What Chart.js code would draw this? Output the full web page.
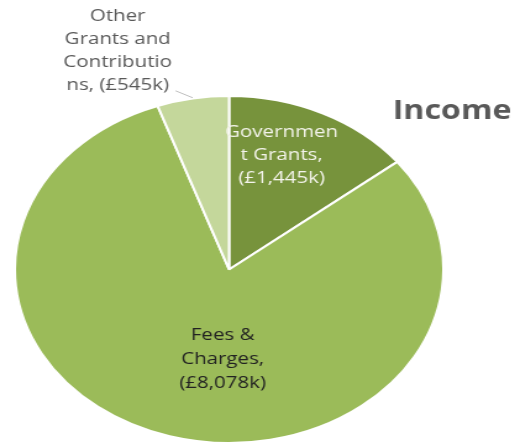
<!DOCTYPE html>
<html lang="en">
<head>
  <meta charset="UTF-8">
  <title>Income</title>
  <script src="https://cdn.jsdelivr.net/npm/chart.js"></script>
  <style>
    html, body { margin: 0; padding: 0; background: #fff; overflow: hidden; }
    /* the original picture is stretched sideways, so the chart is drawn narrow and scaled */
    .wrap { width: 417px; height: 444px; transform: scaleX(1.235); transform-origin: 0 0; }
  </style>
</head>
<body>
  <div class="wrap">
    <canvas id="incomeChart" width="417" height="444"></canvas>
  </div>

<script>
  var categorias = ['Government Grants', 'Fees & Charges', 'Other Grants and Contributions'];
  var valores = [1445, 8078, 545];
  var linhasRotulo = [
    ['Governmen', 't Grants,', '(£1,445k)'],
    ['Fees &', 'Charges,', '(£8,078k)'],
    ['Other', 'Grants and', 'Contributio', 'ns, (£545k)']
  ];
  var titulo = 'Income';

  // label placement relative to pie centre, in units of radius
  var posRotulo = [
    { dx: 0.245, dy: -0.79, cor: '#f4f4ec', lh: 23 },
    { dx: -0.03, dy: 0.38, cor: '#222222', lh: 24 },
    { dx: -0.52, dy: -1.46, cor: '#595959', lh: 23 }
  ];

  const rotulos = {
    id: 'rotulos',
    afterDatasetsDraw(chart) {
      const ctx = chart.ctx;
      const arc = chart.getDatasetMeta(0).data[0];
      const cx = arc.x, cy = arc.y, r = arc.outerRadius;
      ctx.save();
      ctx.font = '16.6px "Open Sans"';
      ctx.textAlign = 'center';
      ctx.textBaseline = 'middle';
      for (var i = 0; i < linhasRotulo.length; i++) {
        var p = posRotulo[i];
        ctx.fillStyle = p.cor;
        for (var j = 0; j < linhasRotulo[i].length; j++) {
          ctx.fillText(linhasRotulo[i][j], cx + p.dx * r, cy + p.dy * r + j * p.lh);
        }
      }
      // leader line for the small slice
      ctx.strokeStyle = '#bfbfbf';
      ctx.lineWidth = 1;
      ctx.beginPath();
      ctx.moveTo(cx - 0.25 * r, cy - 1.03 * r);
      ctx.lineTo(cx - 0.17 * r, cy - 0.99 * r);
      ctx.stroke();
      // title
      ctx.font = 'bold 26px "Open Sans"';
      ctx.fillStyle = '#595959';
      ctx.fillText(titulo, 366, 112);
      ctx.restore();
    }
  };

  new Chart(document.getElementById('incomeChart'), {
    type: 'pie',
    data: {
      labels: categorias,
      datasets: [{
        data: valores,
        backgroundColor: ['#77933c', '#9bbb59', '#c4d79b'],
        borderColor: '#ffffff',
        borderWidth: 2
      }]
    },
    options: {
      responsive: false,
      animation: false,
      layout: { padding: { left: 11, top: 95, right: 57, bottom: 0 } },
      plugins: {
        legend: { display: false },
        tooltip: { enabled: false }
      }
    },
    plugins: [rotulos]
  });
</script>
</body>
</html>
